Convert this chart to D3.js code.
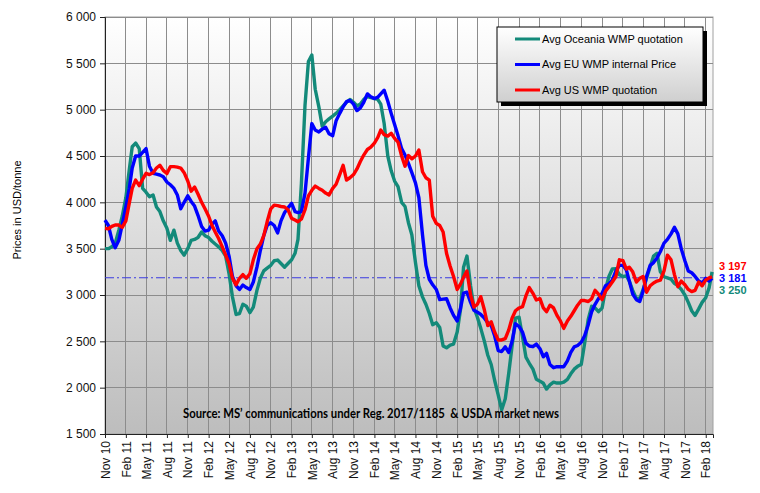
<!DOCTYPE html>
<html><head><meta charset="utf-8">
<script src="https://cdn.jsdelivr.net/npm/d3@7"></script>
<style>body{margin:0;background:#fff}svg{display:block}</style>
</head><body>
<svg id="c" width="760" height="493"></svg>
<script>
const tickLabels = ["Nov 10","Feb 11","May 11","Aug 11","Nov 11","Feb 12","May 12","Aug 12","Nov 12","Feb 13","May 13","Aug 13","Nov 13","Feb 14","May 14","Aug 14","Nov 14","Feb 15","May 15","Aug 15","Nov 15","Feb 16","May 16","Aug 16","Nov 16","Feb 17","May 17","Aug 17","Nov 17","Feb 18"];
const yTicks = [1500,2000,2500,3000,3500,4000,4500,5000,5500,6000];
const seriesNames = ["Avg Oceania WMP quotation","Avg EU WMP internal Price","Avg US WMP quotation"];
const seriesColors = ["#138a7a","#0000ff","#ff0000"];
// half-monthly observations (1st and 16th of each month), Nov 2010 - Mar 2018
const oceania = [3500,3500,3520,3560,3700,3850,4050,4350,4600,4640,4580,4150,4110,4060,4080,3950,3900,3800,3720,3590,3700,3560,3480,3430,3500,3590,3600,3620,3680,3640,3620,3580,3550,3520,3480,3420,
3230,2980,2790,2800,2900,2880,2810,2870,3050,3180,3260,3290,3320,3370,3377,3340,3300,3340,3380,3450,3600,
4200,5050,5520,5590,5220,5030,4820,4870,4900,4930,4960,5000,5040,5080,5110,5080,5040,5060,5110,5140,5130,5120,5110,5060,4850,4500,4340,4230,4170,4000,3955,3780,3650,
3350,3100,2980,2900,2800,2680,2700,2650,2450,2430,2460,2470,2600,2850,3300,3420,3100,2860,2760,2640,
2500,2350,2250,2080,1920,1760,1880,2150,2450,2750,2760,2550,2330,2263,2200,2090,2070,2047,1985,2030,
2060,2050,2050,2060,2090,2150,2200,2230,2250,2480,2740,
2880,2860,2820,2860,3060,3200,3280,3285,3220,
3200,3205,3150,3050,2964,2964,3060,3180,3305,3420,3450,3250,3197,3185,3170,3126,3100,3060,3000,
2920,2830,2780,2850,2920,2970,3080,3250];
const eu = [3809,3750,3600,3510,3590,3760,3950,4150,4370,4500,4500,4540,4580,4390,4313,4305,4295,4277,4220,4190,4150,4080,3930,4000,4070,4010,3960,3860,3740,3690,3700,3765,3800,3690,3640,3560,
3420,3200,3100,3060,3108,3080,3060,3140,3300,3480,3640,3750,3780,3750,3670,3800,3890,3940,3989,3899,3890,3900,
4100,4480,4850,4780,4760,4790,4810,4740,4720,4880,4960,5030,5086,5100,5060,4990,5020,5080,5170,5140,5120,5135,5170,5210,5090,4960,4840,4720,4580,4510,4420,4320,4210,4050,
3650,3320,3170,3110,3060,2950,2955,2960,2860,2780,2720,2860,3020,3030,2920,2835,2815,2790,
2750,2700,2670,2560,2400,2390,2440,2380,2500,2690,2660,2600,2480,2450,2442,2470,2420,2334,2370,2250,
2215,2226,2226,2226,2290,2380,2440,2455,2490,2560,2680,2820,2900,2960,3020,3100,3120,3160,3260,3320,
3320,3270,3150,3010,2950,2930,3040,3200,3320,3350,3400,3470,3560,3600,3660,3730,3660,3500,3370,3260,3240,3200,3150,3130,3180,3150,3181];
const us = [3719,3715,3740,3755,3755,3730,3800,3990,4150,4240,4180,4250,4313,4300,4320,4370,4400,4345,4310,4385,4385,4380,4370,4320,4230,4120,4165,4090,4000,3930,3850,3750,3680,3610,3520,3430,
3340,3180,3110,3180,3220,3180,3230,3380,3500,3550,3640,3790,3930,3970,3965,3955,3950,3920,3827,3810,3791,
3820,3920,4070,4130,4175,4150,4130,4100,4080,4150,4195,4300,4400,4240,4265,4300,4360,4440,4510,4570,4595,4640,4700,4780,4730,4715,4745,4690,4650,4500,4390,4505,4470,4500,4565,
4330,4265,4240,3850,3773,3750,3680,3450,3310,3200,3060,3120,3190,3260,3000,2870,2900,2982,
2838,2670,2710,2600,2514,2515,2530,2620,2750,2830,2860,2874,2990,3080,3018,2946,2960,2860,2820,2890,
2860,2780,2720,2640,2720,2770,2830,2890,2940,2940,2930,2960,3050,3010,2950,3040,3090,3140,3200,3380,
3370,3280,3300,3250,3140,3180,3200,3030,3100,3130,3150,3160,3260,3430,3380,3220,3090,3150,3110,3060,3036,3050,3140,3100,3160,3185,3197];
const refLevel = 3186;
const endLabels = ["3 197","3 181","3 250"];
const endColors = ["#ff0000","#0000ff","#138a7a"];
const sourceText = "Source: MS\u2019 communications under Reg. 2017/1185  & USDA market news";
const yTitle = "Prices in USD/tonne";

const dates = d3.range(oceania.length).map(i => new Date(2010, 10 + Math.floor(i/2), i % 2 ? 16 : 1));
const parseTick = d3.timeParse("%b %y");
const tickDates = tickLabels.map(parseTick);

const svg = d3.select("#c");
const L = 105, R = 713, T = 17, B = 434;
const x = d3.scaleTime().domain([new Date(2010,10,1), new Date(2018,2,5)]).range([L, R]);
const y = d3.scaleLinear().domain([1500, 6000]).range([B, T]);

const defs = svg.append("defs");
const g1 = defs.append("linearGradient").attr("id","bg").attr("x1",0).attr("y1",0).attr("x2",0).attr("y2",1);
g1.append("stop").attr("offset","0%").attr("stop-color","#ffffff");
g1.append("stop").attr("offset","100%").attr("stop-color","#bdbdbd");
const g2 = defs.append("linearGradient").attr("id","lg").attr("x1",0).attr("y1",0).attr("x2",0).attr("y2",1);
g2.append("stop").attr("offset","0%").attr("stop-color","#ffffff");
g2.append("stop").attr("offset","100%").attr("stop-color","#cfcfcf");

svg.append("rect").attr("x",L).attr("y",T).attr("width",R-L).attr("height",B-T).attr("fill","url(#bg)").attr("stroke","#a0a0a0");

// grid
svg.append("g").selectAll("line").data(yTicks).join("line")
  .attr("x1",L).attr("x2",R).attr("y1",d=>y(d)).attr("y2",d=>y(d))
  .attr("stroke","#8c8c8c").attr("stroke-width",1).attr("shape-rendering","crispEdges");
svg.append("g").selectAll("line").data(tickDates).join("line")
  .attr("x1",d=>x(d)).attr("x2",d=>x(d)).attr("y1",T).attr("y2",B)
  .attr("stroke","#8c8c8c").attr("stroke-width",1).attr("shape-rendering","crispEdges");

// axes
const yAxis = svg.append("g").attr("transform",`translate(${L},0)`)
  .call(d3.axisLeft(y).tickValues(yTicks).tickSize(5).tickPadding(4).tickFormat(d => d3.format(",")(d).replace(",", " ")));
yAxis.selectAll("text").attr("font-family","Liberation Sans, Arial, sans-serif").attr("font-size",12).attr("fill","#111");
yAxis.select(".domain").attr("stroke","#222");
yAxis.selectAll(".tick line").attr("stroke","#222");

const xAxis = svg.append("g").attr("transform",`translate(0,${B})`)
  .call(d3.axisBottom(x).tickValues(tickDates).tickSize(4).tickFormat((d,i) => tickLabels[i]));
xAxis.selectAll("text").attr("font-family","Liberation Sans, Arial, sans-serif").attr("font-size",12).attr("fill","#111")
  .attr("transform","rotate(-90)").attr("x",-7).attr("y",0).attr("dy","0.35em").attr("text-anchor","end");
xAxis.select(".domain").attr("stroke","#222");
xAxis.selectAll(".tick line").attr("stroke","#222");

// reference line
svg.append("line").attr("x1",L).attr("x2",R).attr("y1",y(refLevel)).attr("y2",y(refLevel))
  .attr("stroke","#3a3ae0").attr("stroke-width",1).attr("stroke-dasharray","9,3,2,3");

// series
const line = d3.line().x((d,i)=>x(dates[i])).y(d=>y(d));
[oceania, eu, us].forEach((s,k) => {
  svg.append("path").datum(s).attr("d", line).attr("fill","none")
    .attr("stroke", seriesColors[k]).attr("stroke-width",3.4).attr("stroke-linejoin","round");
});

// end labels
const base = y(eu[eu.length-1]);
svg.append("g").selectAll("text").data(endLabels).join("text")
  .attr("x",719).attr("y",(d,i)=>base + (i-1)*12).attr("dy","0.35em")
  .attr("fill",(d,i)=>endColors[i]).attr("font-family","Liberation Sans, Arial, sans-serif")
  .attr("font-size",11).attr("font-weight","bold").text(d=>d);

// legend
const lg = svg.append("g");
lg.append("rect").attr("x",501).attr("y",31).attr("width",206).attr("height",75).attr("fill","#000");
lg.append("rect").attr("x",497).attr("y",27).attr("width",206).attr("height",75).attr("fill","url(#lg)").attr("stroke","#000").attr("stroke-width",1);
seriesNames.forEach((n,k) => {
  const yy = 39 + k*25.5;
  lg.append("line").attr("x1",515).attr("x2",540).attr("y1",yy).attr("y2",yy).attr("stroke",seriesColors[k]).attr("stroke-width",3);
  lg.append("text").attr("x",542).attr("y",yy).attr("dy","0.35em").attr("font-family","Liberation Sans, Arial, sans-serif")
    .attr("font-size",11).attr("fill","#000").text(n);
});

// source
svg.append("text").attr("x",183).attr("y",418).attr("font-family","Lato, Carlito, sans-serif").attr("font-weight","bold")
  .attr("font-size",12.5).attr("fill","#000").style("white-space","pre")
  .attr("textLength",376).attr("lengthAdjust","spacingAndGlyphs").text(sourceText);

// y title
svg.append("text").attr("transform","translate(17,210) rotate(-90)").attr("text-anchor","middle").attr("dy","0.35em")
  .attr("font-family","Liberation Sans, Arial, sans-serif").attr("font-size",11).attr("fill","#000").text(yTitle);
</script>
</body></html>
